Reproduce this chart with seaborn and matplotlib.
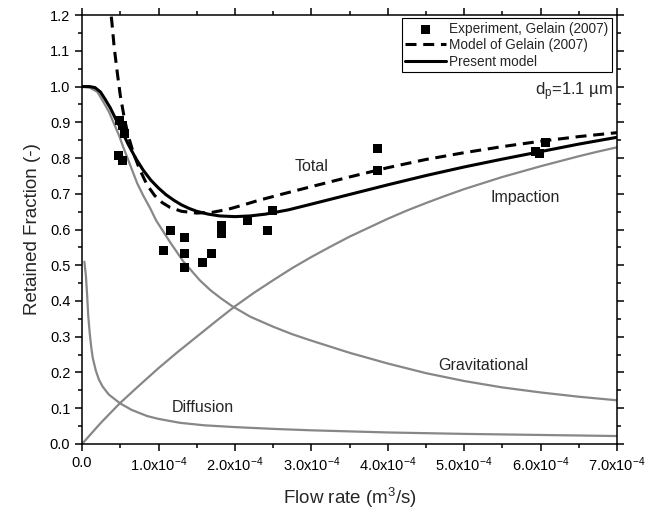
import numpy as np
import pandas as pd
import matplotlib
matplotlib.use("Agg")
import matplotlib.pyplot as plt
import seaborn as sns
from matplotlib.ticker import MultipleLocator, FuncFormatter

# ---- data (flow rate in units of 1e-4 m^3/s) ----
exp_x = [0.49, 0.53, 0.56, 0.47, 0.53, 1.06, 1.16, 1.34, 1.34, 1.34, 1.58, 1.70,
         1.83, 1.83, 2.17, 2.43, 2.49, 3.87, 3.87, 5.93, 5.99, 6.06]
exp_y = [0.905, 0.89, 0.87, 0.808, 0.792, 0.54, 0.596, 0.577, 0.534, 0.495, 0.509, 0.534,
         0.612, 0.59, 0.624, 0.598, 0.652, 0.828, 0.766, 0.818, 0.812, 0.843]

gelain_x = [0.33, 0.36, 0.39, 0.42, 0.46, 0.50, 0.55, 0.60, 0.67, 0.75, 0.85, 0.95, 1.05,
            1.15, 1.30, 1.50, 1.70, 1.90, 2.10, 2.30, 2.60, 3.00, 3.50, 4.00, 4.50, 5.00,
            5.50, 6.00, 6.50, 7.00]
gelain_y = [1.30, 1.24, 1.18, 1.11, 1.04, 0.975, 0.915, 0.865, 0.815, 0.77, 0.725, 0.695, 0.675,
            0.662, 0.651, 0.646, 0.648, 0.656, 0.668, 0.681, 0.698, 0.72, 0.747, 0.773, 0.796,
            0.815, 0.832, 0.847, 0.86, 0.871]

present_x = [0.00, 0.10, 0.17, 0.24, 0.30, 0.37, 0.45, 0.50, 0.60, 0.70, 0.80, 0.90, 1.00,
             1.10, 1.20, 1.30, 1.40, 1.50, 1.65, 1.80, 2.00, 2.20, 2.40, 2.70, 3.00, 3.50,
             4.00, 4.50, 5.00, 5.50, 6.00, 6.50, 7.00]
present_y = [1.00, 1.00, 0.997, 0.985, 0.965, 0.94, 0.905, 0.885, 0.84, 0.80, 0.766, 0.738, 0.716,
             0.697, 0.682, 0.669, 0.659, 0.651, 0.643, 0.638, 0.636, 0.638, 0.643, 0.655, 0.671,
             0.698, 0.725, 0.751, 0.775, 0.797, 0.818, 0.839, 0.858]

imp_x = [0.00, 0.25, 0.50, 0.75, 1.00, 1.25, 1.50, 1.75, 2.00, 2.25, 2.50, 2.75, 3.00, 3.25,
         3.50, 3.75, 4.00, 4.25, 4.50, 4.75, 5.00, 5.25, 5.50, 5.75, 6.00, 6.25, 6.50, 6.75, 7.00]
imp_y = [0.00, 0.06, 0.115, 0.164, 0.212, 0.257, 0.300, 0.343, 0.385, 0.423, 0.458, 0.492, 0.523,
         0.552, 0.58, 0.605, 0.63, 0.653, 0.674, 0.694, 0.713, 0.73, 0.747, 0.762, 0.777, 0.791,
         0.805, 0.818, 0.83]

grav_x = [0.00, 0.10, 0.20, 0.27, 0.35, 0.41, 0.48, 0.54, 0.63, 0.72, 0.80, 0.89, 0.97, 1.06,
          1.15, 1.24, 1.32, 1.43, 1.54, 1.68, 1.82, 1.96, 2.20, 2.50, 2.75, 3.00, 3.50, 4.00,
          4.50, 5.00, 5.50, 6.00, 6.50, 7.00]
grav_y = [1.00, 0.997, 0.985, 0.96, 0.93, 0.90, 0.865, 0.83, 0.78, 0.73, 0.695, 0.66, 0.625, 0.595,
          0.565, 0.537, 0.512, 0.485, 0.458, 0.43, 0.407, 0.386, 0.356, 0.328, 0.307, 0.289,
          0.255, 0.225, 0.198, 0.176, 0.158, 0.144, 0.132, 0.122]

diff_x = [0.03, 0.05, 0.065, 0.08, 0.10, 0.12, 0.14, 0.18, 0.22, 0.27, 0.35, 0.50, 0.65, 0.85,
          1.00, 1.28, 1.60, 2.00, 2.50, 3.00, 4.00, 5.00, 6.00, 7.00]
diff_y = [0.51, 0.47, 0.42, 0.36, 0.31, 0.27, 0.24, 0.205, 0.18, 0.16, 0.138, 0.113, 0.095, 0.078,
          0.07, 0.059, 0.052, 0.047, 0.042, 0.038, 0.032, 0.028, 0.025, 0.022]

SCALE = 1e-4

sns.set_theme(style="ticks")
plt.rcParams["font.family"] = ["Liberation Sans", "DejaVu Sans"]
plt.rcParams["mathtext.fontset"] = "custom"
plt.rcParams["mathtext.rm"] = "Liberation Sans"
plt.rcParams["mathtext.it"] = "Liberation Sans"

fig, ax = plt.subplots(figsize=(6.62, 5.21), dpi=100)
fig.subplots_adjust(left=0.124, right=0.932, top=0.971, bottom=0.148)

gray = "#878787"
for xs, ys in [(imp_x, imp_y), (grav_x, grav_y), (diff_x, diff_y)]:
    df = pd.DataFrame({"x": np.array(xs) * SCALE, "y": ys})
    sns.lineplot(data=df, x="x", y="y", ax=ax, color=gray, lw=1.6, sort=False, legend=False)

dfg = pd.DataFrame({"x": np.array(gelain_x) * SCALE, "y": gelain_y})
sns.lineplot(data=dfg, x="x", y="y", ax=ax, color="black", lw=2.2, sort=False,
             label="Model of Gelain (2007)")
ax.lines[-1].set_dashes((3.6, 2.2))

dfp = pd.DataFrame({"x": np.array(present_x) * SCALE, "y": present_y})
sns.lineplot(data=dfp, x="x", y="y", ax=ax, color="black", lw=2.2, sort=False,
             label="Present model")

dfe = pd.DataFrame({"x": np.array(exp_x) * SCALE, "y": exp_y})
sns.scatterplot(data=dfe, x="x", y="y", ax=ax, marker="s", s=42, color="black",
                edgecolor="none", label="Experiment, Gelain (2007)", zorder=5)

ax.set_xlim(0, 7e-4)
ax.set_ylim(0, 1.2)
ax.xaxis.set_major_locator(MultipleLocator(1e-4))
ax.xaxis.set_minor_locator(MultipleLocator(0.5e-4))
ax.yaxis.set_major_locator(MultipleLocator(0.1))
ax.yaxis.set_minor_locator(MultipleLocator(0.05))

def xfmt(v, pos):
    if abs(v) < 1e-12:
        return "0.0"
    return r"%.1fx10$^{\mathregular{-4}}$" % (v / 1e-4)

ax.xaxis.set_major_formatter(FuncFormatter(xfmt))
ax.yaxis.set_major_formatter(FuncFormatter(lambda v, p: "%.1f" % v))

for s in ax.spines.values():
    s.set_visible(True)
    s.set_linewidth(1.1)
    s.set_color("black")
ax.tick_params(which="both", direction="out", top=True, right=True,
               labeltop=False, labelright=False, colors="black", labelsize=10.5)
ax.tick_params(which="major", length=5, width=1.1)
ax.tick_params(which="minor", length=3, width=1.1)

ax.set_xlabel("Flow rate (m$^{\\mathregular{3}}$/s)", fontsize=13.5, labelpad=8)
ax.set_ylabel("Retained Fraction (-)", fontsize=13.5, labelpad=6)

handles, labels = ax.get_legend_handles_labels()
order = [labels.index("Experiment, Gelain (2007)"), labels.index("Model of Gelain (2007)"),
         labels.index("Present model")]
leg = ax.legend([handles[i] for i in order], [labels[i] for i in order],
                loc="upper right", bbox_to_anchor=(0.995, 0.999), fontsize=9.8,
                frameon=True, fancybox=False, edgecolor="black", framealpha=1,
                handlelength=3.0, handletextpad=0.2, borderpad=0.25, labelspacing=0.18,
                borderaxespad=0.2)
leg.get_frame().set_linewidth(0.8)

ax.text(3.0e-4, 0.775, "Total", fontsize=11.5, ha="center", va="center")
ax.text(5.8e-4, 0.69, "Impaction", fontsize=11.5, ha="center", va="center")
ax.text(5.25e-4, 0.218, "Gravitational", fontsize=11.5, ha="center", va="center")
ax.text(1.58e-4, 0.103, "Diffusion", fontsize=11.5, ha="center", va="center")
ax.text(6.95e-4, 0.985, r"d$_{\mathregular{p}}$=1.1 µm", fontsize=12, ha="right", va="center")

fig.savefig("out.png", dpi=100)
